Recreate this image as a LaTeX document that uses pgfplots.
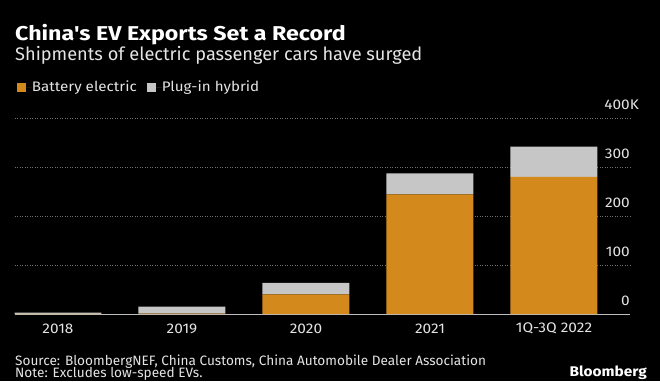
\documentclass[border=0pt]{standalone}
\usepackage{fontspec}
\setmainfont{Fira Sans}[FakeStretch=1.10]
\newfontfamily\plainfont{Fira Sans}
\newfontfamily\titlefont{Fira Sans}[FakeStretch=1.16]
\usepackage{pgfplots}
\pgfplotsset{compat=1.18}
\definecolor{bev}{HTML}{D4891C}
\definecolor{phev}{HTML}{C6C6C6}
\definecolor{gridc}{HTML}{707070}
\definecolor{txt}{HTML}{E4E4E4}
\definecolor{base}{HTML}{BDBDBD}
\pgfplotstableread{
x bev phev
0 0.5 2.5
1 1 14
2 40 24
3 245 43
4 281 62
}\datatable
\begin{document}
\begin{tikzpicture}[x=1pt,y=1pt]
\useasboundingbox (0pt,0pt) rectangle (660pt,-381pt);
\fill[black] (0pt,0pt) rectangle (660pt,-381pt);
\node[anchor=base west, text=white, font=\titlefont\bfseries\fontsize{20}{22}\selectfont, inner sep=0] at (15pt,-40pt) {China's EV Exports Set a Record};
\node[anchor=base west, text=txt, font=\plainfont\fontsize{18.2}{20}\selectfont, inner sep=0] at (15pt,-60pt) {Shipments of electric passenger cars have surged};
\begin{axis}[
  at={(14.7pt,-314pt)}, anchor=south west,
  scale only axis, width=615.3pt, height=195.3pt,
  xmin=-0.349, xmax=4.613, ymin=0, ymax=400,
  ybar stacked, bar width=87pt,
  axis line style={draw=none},
  major tick length=0pt,
  tick style={draw=none},
  xtick={0,1,2,3,4},
  xticklabels={2018,2019,2020,2021,1Q-3Q 2022},
  ytick={100,200,300,400},
  yticklabels={100,200,300,400\rlap{K}},
  extra y ticks={0}, extra y tick labels={0},
  extra y tick style={yticklabel pos=right, ymajorgrids=true, major grid style={solid, draw=base, line width=1pt}},
  yticklabel pos=right,
  ymajorgrids,
  major grid style={draw=gridc, dash pattern=on 1pt off 1.5pt, line width=0.7pt},
  /pgf/number format/assume math mode=true,
  yticklabel style={anchor=south east, inner sep=0pt, yshift=8.5pt, text=txt, font=\fontsize{14}{16}\selectfont},
  xticklabel style={anchor=center, inner sep=0pt, yshift=-14.5pt, text=txt, font=\fontsize{14}{16}\selectfont},
  legend columns=2,
  legend style={at={(0,1)}, anchor=west, xshift=2pt, yshift=31.7pt, draw=none, fill=none, inner sep=0pt, text=txt, font=\fontsize{13.8}{15}\selectfont, nodes={inner sep=0pt}, /tikz/every even column/.append style={column sep=10pt}},
  legend image code/.code={\fill[#1] (0pt,-4.5pt) rectangle (9pt,4.5pt); \path (0pt,0pt) -- (15pt,0pt);},
]
\addplot[fill=bev, draw=none] table[x=x, y=bev] {\datatable};
\addplot[fill=phev, draw=none] table[x=x, y=phev] {\datatable};
\legend{Battery electric, Plug-in hybrid}
\end{axis}
\node[anchor=base west, text=txt, font=\plainfont\fontsize{13.6}{15}\selectfont, inner sep=0] at (15pt,-365pt) {Source: BloombergNEF, China Customs, China Automobile Dealer Association};
\node[anchor=base west, text=txt, font=\plainfont\fontsize{13.6}{15}\selectfont, inner sep=0] at (15pt,-377.3pt) {Note: Excludes low-speed EVs.};
\node[anchor=base east, text=white, font=\bfseries\fontsize{14}{16}\selectfont, inner sep=0] at (647pt,-376pt) {Bloomberg};
\end{tikzpicture}
\end{document}
